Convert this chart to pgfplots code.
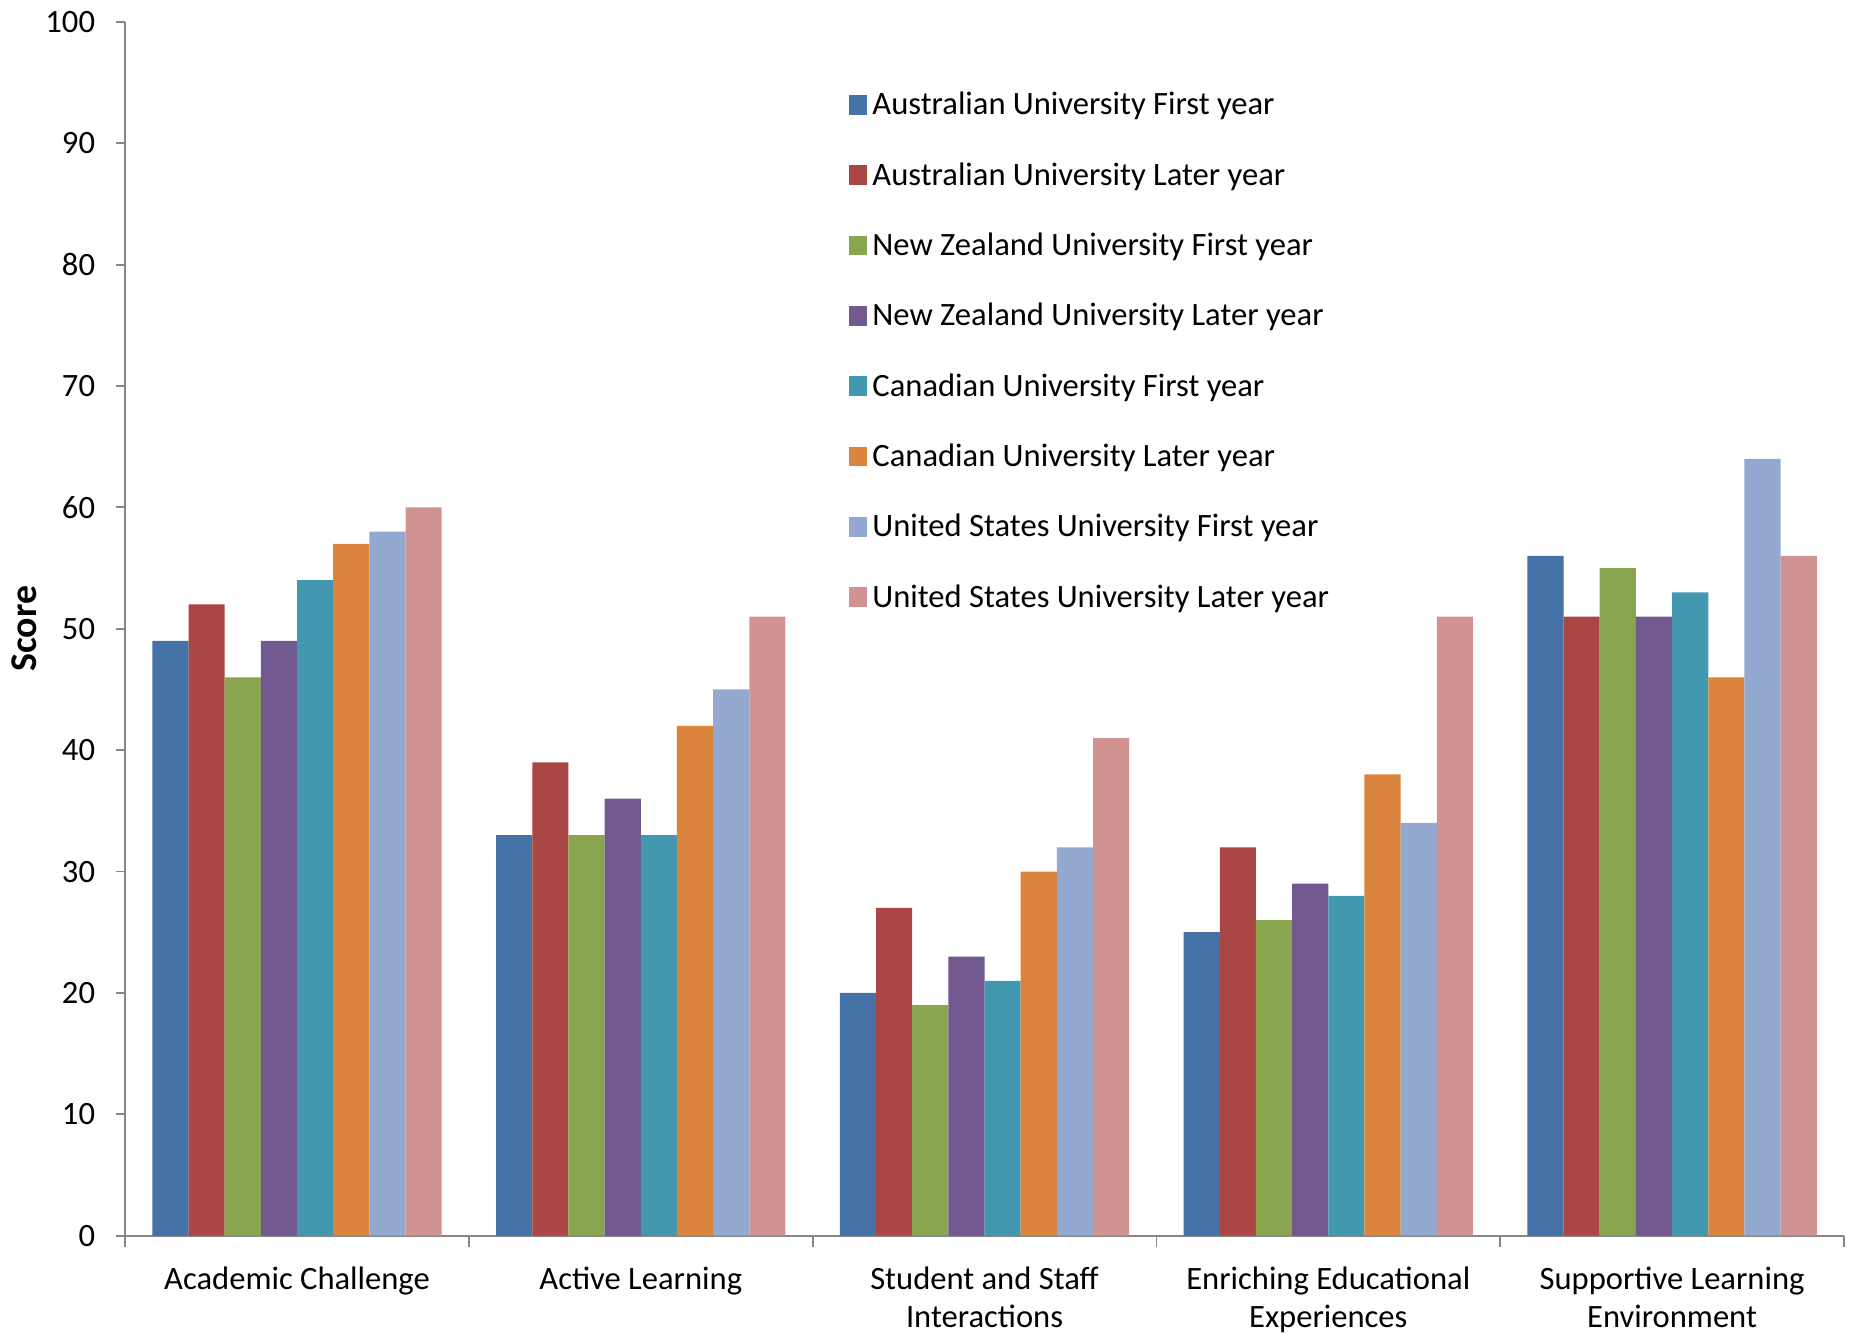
\documentclass[border=0pt]{standalone}
\usepackage{pgfplots}
\pgfplotsset{compat=1.18}
\usepackage{fontspec}
\setmainfont{Carlito}
\definecolor{c1}{HTML}{4572A7}
\definecolor{c2}{HTML}{AA4643}
\definecolor{c3}{HTML}{89A54E}
\definecolor{c4}{HTML}{71588F}
\definecolor{c5}{HTML}{4198AF}
\definecolor{c6}{HTML}{DB843D}
\definecolor{c7}{HTML}{93A9CF}
\definecolor{c8}{HTML}{D19392}
\definecolor{axgray}{HTML}{868686}
\pgfplotsset{sq/.style={draw=none, legend image code/.code={\fill[##1] (0pt,0pt) rectangle (4.8pt,5.3pt);}}}
\begin{document}
\begin{tikzpicture}[font=\fontsize{8.8}{10.2}\selectfont]
\begin{axis}[
  name=ax,
  scale only axis,
  width=464.3pt, height=327.9pt,
  ybar=0pt, bar width=9.77pt,
  xmin=-0.5, xmax=4.5, ymin=0, ymax=100,
  xtick={0,1,2,3,4},
  xticklabels={Academic Challenge, Active Learning, {Student and Staff\\Interactions}, {Enriching Educational\\Experiences}, {Supportive Learning\\Environment}},
  xticklabel style={align=center, font=\fontsize{8.8}{10.2}\selectfont, yshift=-2.6pt},
  minor xtick={-0.5,0.5,1.5,2.5,3.5,4.5},
  ytick={0,10,...,100},
  yticklabel style={xshift=-2.2pt},
  /pgf/number format/assume math mode=true,
  axis lines*=left,
  axis line style={axgray, line width=0.5pt, -},
  tick align=outside,
  major tick length=2.4pt, minor tick length=3pt,
  major x tick style={draw=none},
  minor x tick style={axgray, line width=0.5pt},
  ytick style={axgray, line width=0.5pt},
  ylabel={\fontsize{10.2}{12}\selectfont\textbf{Score}},
  ylabel style={at={(axis description cs:-0.0588,0.5)}, anchor=center},
  legend style={at={(0.4212,0.9433)}, anchor=north west, draw=none, fill=none,
    inner sep=0pt, outer sep=0pt, row sep=10.5pt, column sep=1.5pt,
    nodes={inner sep=0pt, text height=6.5pt, text depth=2pt},
    cells={anchor=base west}},
]
\addplot[fill=c1, sq] coordinates {(0,49) (1,33) (2,20) (3,25) (4,56)};
\addplot[fill=c2, sq] coordinates {(0,52) (1,39) (2,27) (3,32) (4,51)};
\addplot[fill=c3, sq] coordinates {(0,46) (1,33) (2,19) (3,26) (4,55)};
\addplot[fill=c4, sq] coordinates {(0,49) (1,36) (2,23) (3,29) (4,51)};
\addplot[fill=c5, sq] coordinates {(0,54) (1,33) (2,21) (3,28) (4,53)};
\addplot[fill=c6, sq] coordinates {(0,57) (1,42) (2,30) (3,38) (4,46)};
\addplot[fill=c7, sq] coordinates {(0,58) (1,45) (2,32) (3,34) (4,64)};
\addplot[fill=c8, sq] coordinates {(0,60) (1,51) (2,41) (3,51) (4,56)};
\legend{Australian University First year, Australian University Later year, New Zealand University First year, New Zealand University Later year, Canadian University First year, Canadian University Later year, United States University First year, United States University Later year}
\end{axis}
\pgfresetboundingbox
\path[use as bounding box] ([shift={(-33.8pt,-26.5pt)}]ax.south west) rectangle ([shift={(1.9pt,5.9pt)}]ax.north east);
\end{tikzpicture}
\end{document}
